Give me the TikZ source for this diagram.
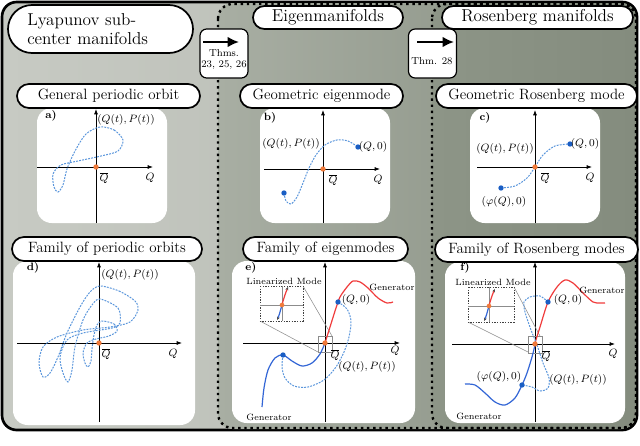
\documentclass[tikz,border=0pt]{standalone}
\usetikzlibrary{arrows.meta,shapes.misc}
\definecolor{leftA}{HTML}{C7CAC3}
\definecolor{leftB}{HTML}{B2B6AE}
\definecolor{midA}{HTML}{A8AEA3}
\definecolor{midB}{HTML}{868E80}
\definecolor{rightA}{HTML}{8D9587}
\definecolor{rightB}{HTML}{848C7E}
\definecolor{dashblue}{HTML}{5A96DC}
\definecolor{genblue}{HTML}{3366D6}
\definecolor{genred}{HTML}{F03C3C}
\definecolor{dotorange}{HTML}{F07A3A}
\definecolor{dotblue}{HTML}{1A5EC4}
\newcommand\qbar{\mkern1.5mu\overline{\mkern-1.5mu Q\mkern-1mu}\mkern1mu}
\begin{document}
\begin{tikzpicture}[x=0.75pt,y=-0.75pt,
  pill/.style={rounded rectangle, draw=black, line width=1.3pt, fill=white, inner sep=0pt, font=\fontsize{11.2}{13}\selectfont},
  titlepill/.style={pill, font=\fontsize{12.9}{15}\selectfont},
  thmbox/.style={draw=black, line width=0.9pt, fill=white, rounded corners=5pt, minimum width=36pt, minimum height=36.75pt, inner sep=0pt},
  thmtext/.style={font=\fontsize{7.6}{9}\selectfont, inner sep=0pt},
  bigarrow/.style={line width=1.7pt, -{Latex[length=8.5pt,width=8pt]}},
  panelbg/.style={fill=white, rounded corners=11pt},
  axisline/.style={line width=0.6pt, -{Latex[length=4pt,width=3pt]}},
  lab/.style={font=\fontsize{8.3}{10}\selectfont, inner sep=0pt},
  smalllab/.style={font=\fontsize{6.8}{8}\selectfont, inner sep=0pt},
  panellab/.style={font=\fontsize{8}{10}\selectfont\bfseries, inner sep=0pt},
  orbit/.style={draw=dashblue, line width=0.75pt, dash pattern=on 1.4pt off 0.9pt},
  genb/.style={draw=genblue, line width=0.9pt},
  genr/.style={draw=genred, line width=0.9pt},
  odot/.style={circle, fill=dotorange, inner sep=0pt, minimum size=4pt},
  bdot/.style={circle, fill=dotblue, inner sep=0pt, minimum size=4pt},
  insetbox/.style={draw=black!75, line width=0.5pt, dash pattern=on 1pt off 1pt},
  insetcross/.style={draw=black!45, line width=0.5pt},
  zoombox/.style={draw=black!45, line width=0.4pt},
  zoomline/.style={draw=black!45, line width=0.4pt},
  regionborder/.style={line width=1.8pt, dash pattern=on 1.8pt off 2.8pt},
  tinytip/.style={-{Stealth[length=2.5pt,width=2.2pt,color=black!70]}},
]
\useasboundingbox (0,0) rectangle (640,446);

% ---------- regions ----------
\path[left color=leftA, right color=leftB, rounded corners=11pt] (2,2) rectangle (637,430);
\draw[line width=2pt, rounded corners=11pt] (2,2) rectangle (637,430);
\path[left color=midA, right color=midB, rounded corners=11pt] (218,3) rectangle (636,429);
\path[left color=rightA, right color=rightB, rounded corners=11pt] (432,3) rectangle (636,429);
\draw[regionborder, rounded corners=11pt] (218,4) rectangle (636,428);
\draw[regionborder, rounded corners=11pt] (432,4) rectangle (636,428);

% ---------- white panels ----------
\fill[panelbg] (37,108) rectangle (167,223);
\fill[panelbg] (260,108) rectangle (390,223);
\fill[panelbg] (470,108) rectangle (600,223);
\fill[panelbg] (13,261) rectangle (195,425);
\fill[panelbg] (232,261) rectangle (415,423);
\fill[panelbg] (445,262) rectangle (625,423);

% ---------- titles ----------
\node[titlepill, minimum width=138.75pt, minimum height=36pt] (tL) at (100.5,29) {};
\node[font=\fontsize{12.9}{14.3}\selectfont, align=left, anchor=west, inner sep=0pt] (tLtext) at (27,29.5) {Lyapunov sub-\\center manifolds};
\node[titlepill, minimum width=112.5pt, minimum height=17.25pt] (tE) at (328,17.5) {Eigenmanifolds};
\node[titlepill, minimum width=143.25pt, minimum height=17.25pt] (tR) at (537.5,17.5) {Rosenberg manifolds};

% ---------- theorem boxes ----------
\node[thmbox] (th1) at (224,53.5) {};
\coordinate (th1s) at (203,42);
\coordinate (th1e) at (239,42);
\draw[bigarrow] (th1s) -- (th1e);
\node[thmtext] (th1a) at (224,53) {Thms.};
\node[thmtext] (th1b) at (224,65) {23, 25, 26};
\node[thmbox] (th2) at (432.5,53.5) {};
\coordinate (th2s) at (417,42);
\coordinate (th2e) at (454,42);
\draw[bigarrow] (th2s) -- (th2e);
\node[thmtext] (th2a) at (432,61) {Thm. 28};

% ---------- subtitles ----------
\node[pill, minimum width=137.25pt, minimum height=18pt] (sA) at (108.5,96) {General periodic orbit};
\node[pill, minimum width=122.25pt, minimum height=18pt] (sB) at (321.5,96) {Geometric eigenmode};
\node[pill, minimum width=150.75pt, minimum height=18pt] (sC) at (536.5,96) {Geometric Rosenberg mode};
\node[pill, minimum width=142.5pt, minimum height=18pt] (sD) at (107,249) {Family of periodic orbits};
\node[pill, minimum width=123.75pt, minimum height=18pt] (sE) at (325.5,249) {Family of eigenmodes};
\node[pill, minimum width=152.25pt, minimum height=18.75pt] (sF) at (536.5,249.5) {Family of Rosenberg modes};

% ---------- panel a ----------
\draw[axisline] (37,167) -- (153,167);
\draw[axisline] (96,223) -- (96,109);
\begin{scope}[shift={(96,167)}]
\draw[orbit] plot[smooth cycle] coordinates {(4,-40) (18,-37) (27,-27) (22,-16) (5,-11) (-18,-6) (-35,-2) (-43,7) (-42,20) (-38,25) (-33,18) (-29,2) (-21,-16) (-10,-33)};
\end{scope}
\node[odot] (oa) at (96,167) {};
\node[panellab] (la) at (51,116) {a)};
\node[lab] (pa) at (126,120) {$(Q(t),P(t))$};
\node[lab] (qba) at (104,178) {$\qbar$};
\node[lab] (qa) at (150,178) {$Q$};

% ---------- panel b ----------
\draw[axisline] (264,169) -- (380,169);
\draw[axisline] (323,223) -- (323,110);
\draw[orbit] plot[smooth] coordinates {(284,193) (286,201) (291,204) (297,197) (303,183) (309,168) (316,155) (325,145) (337,140) (348,141) (358,147)};
\node[odot] (ob) at (323,169) {};
\node[bdot] (b1) at (284,193) {};
\node[bdot] (b2) at (358,147) {};
\node[panellab] (lb) at (270,118) {b)};
\node[lab] (pb) at (291,144) {$(Q(t),P(t))$};
\node[lab] (q0b) at (373,147) {$(Q,0)$};
\node[lab] (qbb) at (333,180) {$\qbar$};
\node[lab] (qb) at (378,180) {$Q$};

% ---------- panel c ----------
\draw[axisline] (477,167) -- (592,167);
\draw[axisline] (535,223) -- (535,110);
\draw[orbit] plot[smooth] coordinates {(501,188) (515,186) (527,178) (535,167) (543,155) (555,146) (570,144)};
\node[odot] (oc) at (535,167) {};
\node[bdot] (c1) at (501,188) {};
\node[bdot] (c2) at (570,144) {};
\node[panellab] (lc) at (485,118) {c)};
\node[lab] (pc) at (505,149) {$(Q(t),P(t))$};
\node[lab] (q0c) at (585,144) {$(Q,0)$};
\node[lab] (phc) at (504,202) {$(\varphi(Q),0)$};
\node[lab] (qbc) at (545,178) {$\qbar$};
\node[lab] (qc) at (590,178) {$Q$};

% ---------- panel d ----------
\draw[axisline] (17,343) -- (182,343);
\draw[axisline] (99,422) -- (99,262);
\begin{scope}[shift={(99,343)}]
\draw[orbit] plot[smooth cycle] coordinates {(1,-57) (20,-52) (36,-42) (39,-33) (31,-21) (11,-16) (-16,-13) (-42,-6) (-56,4) (-60,20) (-56,34) (-49,30) (-41,14) (-32,-10) (-19,-36) (-9,-51)};
\draw[orbit] plot[smooth cycle] coordinates {(1,-44) (19,-35) (21,-20) (13,-15) (-16,-10) (-32,-3) (-39,14) (-36,30) (-31,39) (-27,27) (-24,4) (-16,-23) (-7,-38)};
\draw[orbit] plot[smooth cycle] coordinates {(3,-22) (15,-19) (18,-12) (10,-7) (-3,-4) (-12,0) (-16,10) (-14,20) (-11,24) (-8,18) (-7,6) (-5,-8) (-2,-18)};
\end{scope}
\node[odot] (od) at (99,343) {};
\node[panellab] (ld) at (33,268) {d)};
\node[lab] (pd) at (130,275) {$(Q(t),P(t))$};
\node[lab] (qbd) at (106,354) {$\qbar$};
\node[lab] (qd) at (173,354) {$Q$};

% ---------- panel e ----------
\draw[axisline] (243,343) -- (400,343);
\draw[axisline] (325,422) -- (325,262);
\draw[zoombox] (318,336) rectangle (332,352);
\draw[zoomline] (303,286) -- (332,336);
\draw[zoomline] (260,321) -- (318,352);
\draw[insetbox, fill=white] (260,286) rectangle (303,321);
\draw[insetcross] (282,286) -- (282,321);
\draw[insetcross] (260,305) -- (303,305);
\draw[genr, tinytip] (282,305) .. controls (284,297) and (286,292) .. (288,287);
\draw[genb, tinytip] (282,305) .. controls (280,312) and (279,316) .. (277,320);
\node[odot, minimum size=3.5pt] (oei) at (282,305) {};
\draw[genr] plot[smooth] coordinates {(325,343) (330,327) (336,308) (340,297) (347,287) (353,281) (360,282) (368,288) (378,298) (387,303) (393,302)};
\draw[genb] plot[smooth] coordinates {(325,343) (320,354) (312,363) (302,366) (292,361) (283,355) (275,358) (268,370) (264,388) (262,407)};
\draw[orbit] plot[smooth] coordinates {(338,302) (347,309) (351,321) (349,337) (344,352) (336,367) (324,380) (308,387) (294,386) (285,378) (282,367) (283,355)};
\node[odot] (oe) at (325,343) {};
\node[bdot] (e1) at (338,302) {};
\node[bdot] (e2) at (283,355) {};
\node[panellab] (le) at (251,268) {e)};
\node[smalllab] (lme) at (284,281) {Linearized Mode};
\node[smalllab] (g1e) at (392,287) {Generator};
\node[smalllab] (g2e) at (269,417) {Generator};
\node[lab] (q0e) at (356,300) {$(Q,0)$};
\node[lab] (pe) at (367,367) {$(Q(t),P(t))$};
\node[lab] (qbe) at (335,355) {$\qbar$};
\node[lab] (qe) at (395,351) {$Q$};

% ---------- panel f ----------
\draw[axisline] (452,344) -- (615,344);
\draw[axisline] (535,422) -- (535,262);
\draw[zoombox] (528,336) rectangle (542,353);
\draw[zoomline] (514,287) -- (540,336);
\draw[zoomline] (468,322) -- (528,352);
\draw[insetbox, fill=white] (468,287) rectangle (514,322);
\draw[insetcross] (489,287) -- (489,322);
\draw[insetcross] (468,306) -- (514,306);
\draw[genr, tinytip] (489,306) .. controls (491,298) and (493,293) .. (495,289);
\draw[genb, tinytip] (489,306) .. controls (487,313) and (486,317) .. (484,321);
\node[odot, minimum size=3.5pt] (ofi) at (489,306) {};
\draw[genr] plot[smooth] coordinates {(535,343) (540,327) (548,302) (557,287) (565,280) (573,283) (583,293) (593,302) (600,303) (605,303)};
\draw[genb] plot[smooth] coordinates {(535,345) (532,357) (527,373) (522,385) (515,398) (505,405) (495,402) (485,393) (475,385) (465,384)};
\draw[orbit] plot[smooth] coordinates {(548,302) (540,296) (530,297) (524,302) (525,312) (531,330) (537,345) (543,363) (549,378) (548,388) (540,391) (532,387) (522,385)};
\node[odot] (of) at (535,344) {};
\node[bdot] (f1) at (548,302) {};
\node[bdot] (f2) at (522,385) {};
\node[panellab] (lf) at (465,268) {f)};
\node[smalllab] (lmf) at (493,282) {Linearized Mode};
\node[smalllab] (g1f) at (602,290) {Generator};
\node[smalllab] (g2f) at (479,416) {Generator};
\node[lab] (q0f) at (568,300) {$(Q,0)$};
\node[lab] (pf) at (578,380) {$(Q(t),P(t))$};
\node[lab] (phf) at (499,377) {$(\varphi(Q),0)$};
\node[lab] (qbf) at (546,356) {$\qbar$};
\node[lab] (qf) at (613,354) {$Q$};
\end{tikzpicture}
\end{document}
